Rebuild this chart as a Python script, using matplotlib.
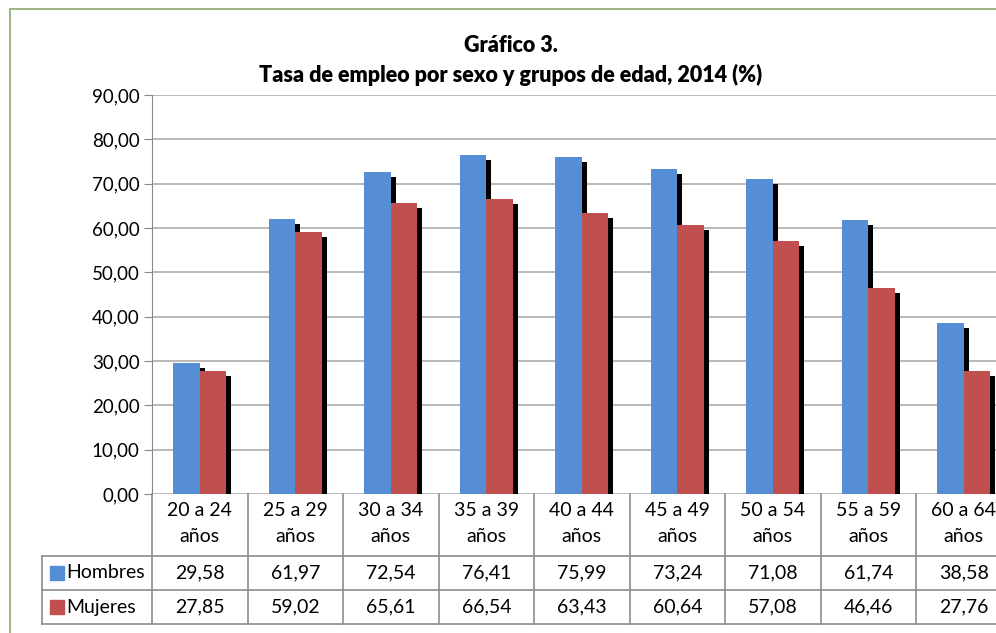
import matplotlib.pyplot as plt
import matplotlib.patheffects as pe
from matplotlib.patches import Rectangle
from matplotlib.transforms import blended_transform_factory

plt.rcParams["font.family"] = ["Lato", "DejaVu Sans"]

categories = ["20 a 24\naños", "25 a 29\naños", "30 a 34\naños", "35 a 39\naños",
              "40 a 44\naños", "45 a 49\naños", "50 a 54\naños", "55 a 59\naños",
              "60 a 64\naños"]
hombres = [29.58, 61.97, 72.54, 76.41, 75.99, 73.24, 71.08, 61.74, 38.58]
mujeres = [27.85, 59.02, 65.61, 66.54, 63.43, 60.64, 57.08, 46.46, 27.76]
series = [("Hombres", hombres, "#558ED5"), ("Mujeres", mujeres, "#C0504D")]
yticks = [0, 10, 20, 30, 40, 50, 60, 70, 80, 90]

W, H = 996, 633
fig = plt.figure(figsize=(W / 100, H / 100), dpi=100)


def fx(px):
    return px / W


def fy(py):
    return 1 - py / H


# plot area runs past the right edge of the picture (the original is cropped)
ax_left, ax_top, ax_bot = 152, 95, 494
cat_w = 95.5
ax = fig.add_axes([fx(ax_left), fy(ax_bot), fx(cat_w * len(categories)),
                   (ax_bot - ax_top) / H])

x = list(range(len(categories)))
bw = 0.28
shadow = [pe.SimplePatchShadow(offset=(3.6, -3.6), shadow_rgbFace="black", alpha=1.0),
          pe.Normal()]
for i, (name, vals, col) in enumerate(series):
    pos = [v + (i - 0.5) * bw for v in x]
    bars = ax.bar(pos, vals, width=bw, color=col, zorder=3)
    for b in bars:
        b.set_path_effects(shadow)

ax.set_xlim(-0.5, len(categories) - 0.5)
ax.set_ylim(0, 90)
ax.set_yticks(yticks)
ax.set_yticklabels([f"{t:.2f}".replace(".", ",") for t in yticks], fontsize=13.5)
ax.set_xticks([])
ax.yaxis.grid(True, color="#b3b3b3", lw=1.3, zorder=0)
ax.tick_params(axis="y", length=6, color="#888888", pad=3)
for s in ["top", "right", "bottom"]:
    ax.spines[s].set_visible(False)
ax.spines["left"].set_color("#888888")

# data table below the plot
tc = "#8c8c8c"
fs = 14
trans = blended_transform_factory(ax.transData, fig.transFigure)
rows = [494, 556, 590, 624]
for k in range(len(categories) + 1):
    fig.add_artist(plt.Line2D([k - 0.5, k - 0.5], [fy(rows[0]), fy(rows[-1])],
                              transform=trans, color=tc, lw=1.2))
for r in rows[1:]:
    fig.add_artist(plt.Line2D([fx(42), fx(W + 50)], [fy(r), fy(r)], color=tc, lw=1.2))
fig.add_artist(plt.Line2D([fx(42), fx(42)], [fy(rows[1]), fy(rows[-1])], color=tc, lw=1.2))

for k, lab in enumerate(categories):
    top, bot = lab.split("\n")
    fig.text(k, fy(511), top, transform=trans, ha="center", va="center", fontsize=fs)
    fig.text(k, fy(537), bot, transform=trans, ha="center", va="center", fontsize=fs)

for j, (name, vals, col) in enumerate(series):
    yc = (rows[j + 1] + rows[j + 2]) / 2
    fig.add_artist(Rectangle((fx(50), fy(yc + 7)), fx(14), 14 / H, color=col))
    fig.text(fx(66), fy(yc), name, ha="left", va="center", fontsize=fs)
    for k, v in enumerate(vals):
        fig.text(k, fy(yc), f"{v:.2f}".replace(".", ","), transform=trans,
                 ha="center", va="center", fontsize=fs)

fig.text(fx(511), fy(46), "Gráfico 3.", ha="center", va="center",
         fontsize=15.5, fontweight="heavy")
fig.text(fx(511), fy(75), "Tasa de empleo por sexo y grupos de edad, 2014 (%)",
         ha="center", va="center", fontsize=15.5, fontweight="heavy")

# outer chart frame (cropped on right and bottom)
fig.add_artist(Rectangle((fx(10), fy(H + 20)), fx(W), (H + 11) / H, fill=False,
                         edgecolor="#8fa86f", lw=1.2))

fig.savefig("out.png", dpi=100)
